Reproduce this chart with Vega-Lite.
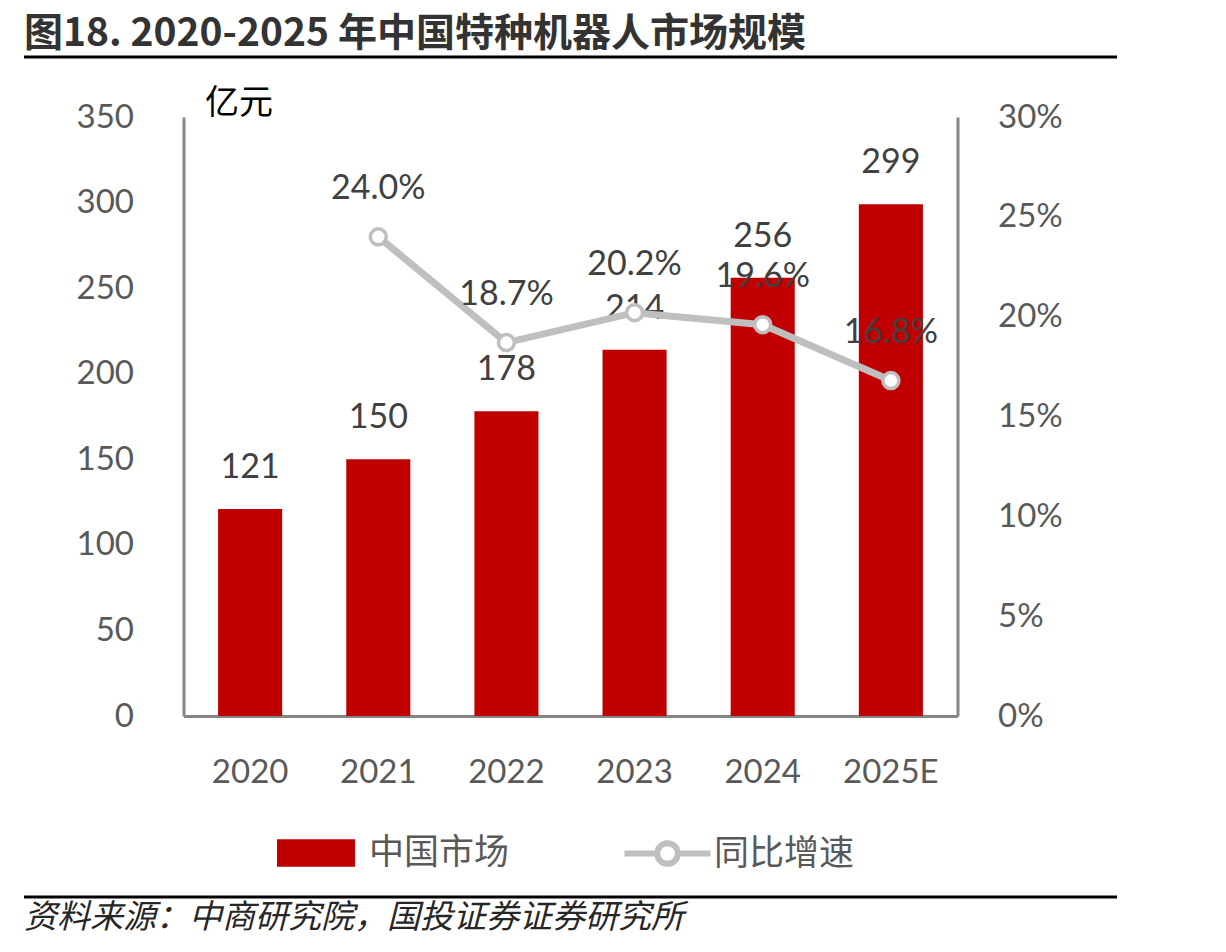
{
  "$schema": "https://vega.github.io/schema/vega-lite/v6.json",
  "background": "white",
  "padding": {"left": 22, "top": 15, "right": 5, "bottom": 5},
  "config": {"view": {"stroke": null}, "font": "Lato"},
  "datasets": {
    "market": [
      {"year": "2020", "size": 121, "growth": null},
      {"year": "2021", "size": 150, "growth": 0.240},
      {"year": "2022", "size": 178, "growth": 0.187},
      {"year": "2023", "size": 214, "growth": 0.202},
      {"year": "2024", "size": 256, "growth": 0.196},
      {"year": "2025E", "size": 299, "growth": 0.168}
    ],
    "heading": [{"text": "图18. 2020-2025 年中国特种机器人市场规模"}],
    "source": [{"text": "资料来源：中商研究院，国投证券证券研究所"}]
  },
  "bounds": "flush",
  "center": true,
  "spacing": 59,
  "vconcat": [
    {
      "width": 1093,
      "height": 2,
      "data": {"name": "heading"},
      "layer": [
        {
          "mark": {"type": "rule", "color": "#000000", "strokeWidth": 3},
          "encoding": {
            "x": {"datum": 0, "type": "quantitative", "scale": {"domain": [0, 1]}, "axis": null},
            "x2": {"datum": 1}
          }
        },
        {
          "mark": {"type": "text", "align": "left", "baseline": "alphabetic", "dy": -11, "font": "Noto Sans CJK SC", "fontWeight": "bold", "fontSize": 39, "color": "#333333"},
          "encoding": {
            "x": {"datum": 0, "type": "quantitative"},
            "text": {"field": "text"}
          }
        }
      ]
    },
    {
      "width": 774,
      "height": 599,
      "data": {"name": "market"},
      "encoding": {
        "x": {
          "field": "year",
          "type": "ordinal",
          "sort": null,
          "scale": {"paddingInner": 0.5, "paddingOuter": 0.27},
          "axis": {
            "title": null,
            "labelAngle": 0,
            "labelFont": "Lato",
            "labelFontSize": 33,
            "labelColor": "#595959",
            "labelPadding": 40,
            "ticks": false,
            "domainColor": "#868686",
            "domainWidth": 3
          }
        }
      },
      "layer": [
        {
          "encoding": {
            "y": {
              "field": "size",
              "type": "quantitative",
              "scale": {"domain": [0, 350]},
              "axis": {
                "orient": "left",
                "values": [0, 50, 100, 150, 200, 250, 300, 350],
                "grid": false,
                "ticks": false,
                "labelFont": "Lato",
                "labelFontSize": 33,
                "labelColor": "#595959",
                "labelPadding": 50,
                "domainColor": "#868686",
                "domainWidth": 3,
                "title": "亿元",
                "titleAngle": 0,
                "titleAlign": "left",
                "titleBaseline": "alphabetic",
                "titleX": 21,
                "titleY": -4,
                "titleFont": "Noto Sans CJK SC",
                "titleFontSize": 34,
                "titleFontWeight": "normal",
                "titleColor": "#000000"
              }
            }
          },
          "layer": [
            {
              "mark": {"type": "bar"},
              "encoding": {
                "fill": {
                  "datum": "中国市场",
                  "type": "nominal",
                  "scale": {"range": ["#C00000"]},
                  "legend": {
                    "title": null,
                    "orient": "none",
                    "legendX": 253,
                    "legendY": 758,
                    "symbolType": "M-1,-0.35H1V0.35H-1Z",
                    "symbolSize": 6084,
                    "symbolStrokeWidth": 0,
                    "labelFont": "Noto Sans CJK SC",
                    "labelFontSize": 35,
                    "labelColor": "#595959",
                    "labelOffset": 14
                  }
                }
              }
            },
            {
              "mark": {"type": "text", "baseline": "alphabetic", "dy": -31, "font": "Lato", "fontSize": 34, "color": "#404040"},
              "encoding": {"text": {"field": "size", "type": "quantitative"}}
            }
          ]
        },
        {
          "transform": [{"filter": "datum.growth != null"}],
          "encoding": {
            "y": {
              "field": "growth",
              "type": "quantitative",
              "scale": {"domain": [0, 0.3]},
              "axis": {
                "orient": "right",
                "values": [0, 0.05, 0.1, 0.15, 0.2, 0.25, 0.3],
                "format": ".0%",
                "grid": false,
                "ticks": false,
                "labelFont": "Lato",
                "labelFontSize": 33,
                "labelColor": "#595959",
                "labelPadding": 40,
                "domainColor": "#868686",
                "domainWidth": 3,
                "title": null
              }
            }
          },
          "layer": [
            {
              "mark": {"type": "line", "strokeWidth": 7},
              "encoding": {
                "stroke": {
                  "datum": "同比增速",
                  "type": "nominal",
                  "scale": {"range": ["#BFBFBF"]},
                  "legend": {
                    "title": null,
                    "orient": "none",
                    "legendX": 597,
                    "legendY": 751,
                    "symbolType": "M-1,0H-0.24M0.24,0H1M-0.24,0A0.24,0.24,0,1,1,0.24,0A0.24,0.24,0,1,1,-0.24,0",
                    "symbolSize": 7400,
                    "symbolFillColor": "#FFFFFF",
                    "symbolStrokeWidth": 6,
                    "labelFont": "Noto Sans CJK SC",
                    "labelFontSize": 35,
                    "labelColor": "#595959",
                    "labelOffset": 0
                  }
                }
              }
            },
            {
              "mark": {"type": "point", "filled": true, "fill": "#FFFFFF", "stroke": "#BFBFBF", "strokeWidth": 3.5, "size": 256, "opacity": 1}
            },
            {
              "mark": {"type": "text", "baseline": "alphabetic", "dy": -38, "font": "Lato", "fontSize": 34, "color": "#404040"},
              "encoding": {"text": {"field": "growth", "type": "quantitative", "format": ".1%"}}
            }
          ]
        }
      ],
      "resolve": {"scale": {"y": "independent"}}
    },
    {
      "width": 1093,
      "height": 244,
      "data": {"name": "source"},
      "layer": [
        {
          "mark": {"type": "rule", "color": "#000000", "strokeWidth": 3},
          "encoding": {
            "x": {"datum": 0, "type": "quantitative", "scale": {"domain": [0, 1]}, "axis": null},
            "x2": {"datum": 1}
          }
        },
        {
          "mark": {"type": "text", "align": "left", "baseline": "middle", "dy": 21, "font": "Noto Sans CJK SC", "fontStyle": "italic", "fontSize": 33, "color": "#262626"},
          "encoding": {
            "x": {"datum": 0, "type": "quantitative"},
            "text": {"field": "text"}
          }
        }
      ]
    }
  ]
}
